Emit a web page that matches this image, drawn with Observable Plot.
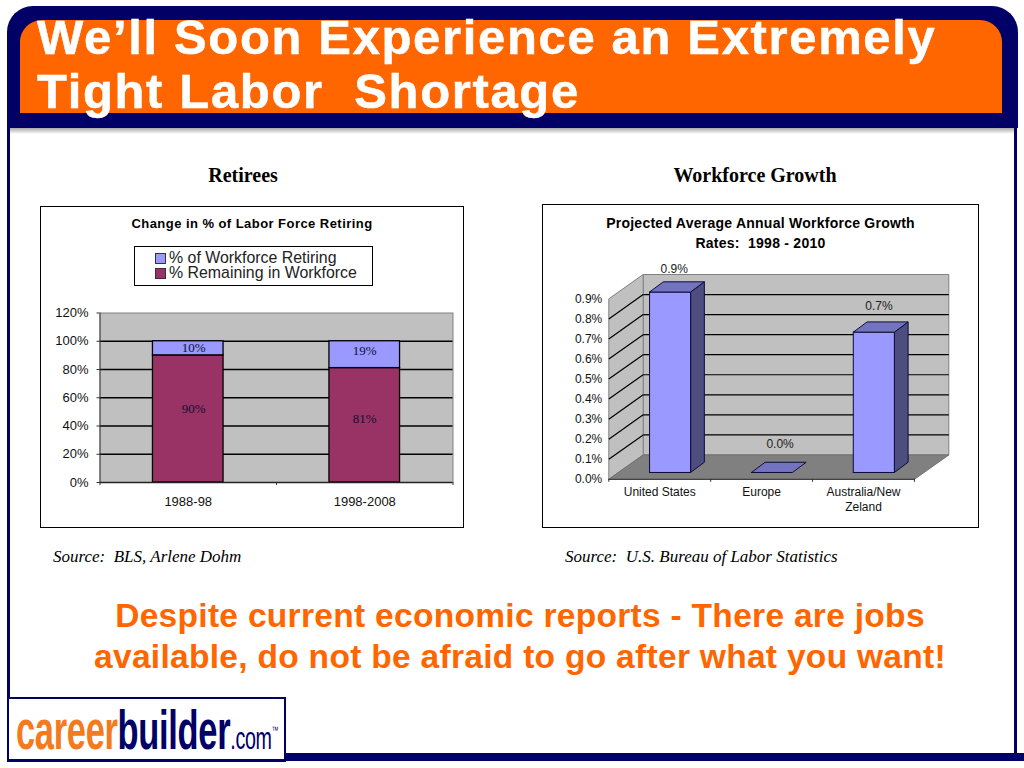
<!DOCTYPE html>
<html>
<head>
<meta charset="utf-8">
<script src="https://cdn.jsdelivr.net/npm/d3@7"></script>
<script src="https://cdn.jsdelivr.net/npm/@observablehq/plot@0.6"></script>
<style>
  html, body { margin: 0; padding: 0; background: #fff; }
  #slide { position: relative; width: 1024px; height: 768px; overflow: hidden; background: #fff; font-family: "Liberation Sans", Arial, sans-serif; }
  .abs { position: absolute; white-space: pre; }
  .ctr { transform: translateX(-50%); text-align: center; }
  .serif { font-family: "Liberation Serif", "Times New Roman", serif; }
  .box { position: absolute; box-sizing: border-box; border: 1.5px solid #000; background: #fff; }
  svg { position: absolute; background: transparent !important; overflow: visible; }
  .sw { position: absolute; width: 9px; height: 9px; border: 1px solid #333; }
</style>
</head>
<body>
<div id="slide">
  <!-- slide furniture -->
  <div class="abs" style="left:7px;top:100px;width:1004px;height:660px;border-left:3px solid #000066;border-right:3px solid #000066;"></div>
  <div class="abs" style="left:10px;top:127px;width:1004px;height:7px;background:linear-gradient(#9a9a9a,#fff);"></div>
  <div class="abs" style="left:6.5px;top:6px;width:1011px;height:122px;background:#000066;border-radius:26px 26px 0 0;"></div>
  <div class="abs" style="left:19.5px;top:20px;width:982px;height:93px;background:#ff6600;border-radius:22px 22px 0 0;"></div>
  <div class="abs" style="left:37px;top:10px;font-weight:bold;font-size:49px;line-height:54px;color:#fff;letter-spacing:1.65px;-webkit-text-stroke:0.5px #fff;">We’ll Soon Experience an Extremely
Tight Labor  Shortage</div>

  <div class="abs" style="left:285px;top:753px;width:739px;height:8px;background:#000066;"></div>
  <div class="abs" style="left:7px;top:697px;width:278.5px;height:65px;box-sizing:border-box;border:2.5px solid #000066;border-bottom-width:3.5px;background:#fff;"></div>
  <div class="abs" id="logo" style="left:16px;top:698px;font-weight:bold;font-size:56px;line-height:64px;letter-spacing:-0.5px;transform-origin:0 0;transform:scaleX(0.615);"><span style="color:#f47a20;">career</span><span style="color:#000066;">builder</span><span style="color:#000066;font-size:32px;font-weight:normal;">.com</span><span style="color:#000066;font-size:11px;font-weight:normal;vertical-align:15px;">™</span></div>

  <!-- headings -->
  <div class="abs ctr serif" style="left:243px;top:164px;font-weight:bold;font-size:20px;line-height:22px;">Retirees</div>
  <div class="abs ctr serif" style="left:755px;top:164px;font-weight:bold;font-size:20px;line-height:22px;">Workforce Growth</div>

  <!-- chart frames -->
  <div class="box" id="leftBox" style="left:40px;top:205.5px;width:424px;height:322px;"></div>
  <div class="box" id="rightBox" style="left:542px;top:204px;width:437px;height:324px;"></div>

  <div class="abs ctr" style="left:252px;top:216px;font-weight:bold;font-size:13px;line-height:16px;letter-spacing:0.45px;">Change in % of Labor Force Retiring</div>
  <div class="abs" style="left:134px;top:246px;width:239px;height:40px;box-sizing:border-box;border:1px solid #000;"></div>
  <div class="sw" style="left:155px;top:253px;background:#9999ff;"></div>
  <div class="sw" style="left:155px;top:268px;background:#993366;"></div>
  <div class="abs" style="left:169px;top:250px;font-size:15.9px;line-height:15px;color:#222;">% of Workforce Retiring
% Remaining in Workforce</div>

  <div class="abs ctr" style="left:760.5px;top:214px;font-weight:bold;font-size:14px;line-height:19.5px;letter-spacing:0.25px;">Projected Average Annual Workforce Growth
Rates:  1998 - 2010</div>

  <!-- sources -->
  <div class="abs serif" style="left:53px;top:548px;font-style:italic;font-size:17px;line-height:18px;">Source:  BLS, Arlene Dohm</div>
  <div class="abs serif" style="left:565px;top:548px;font-style:italic;font-size:17px;line-height:18px;">Source:  U.S. Bureau of Labor Statistics</div>

  <!-- takeaway -->
  <div class="abs ctr" style="left:520px;top:595px;font-weight:bold;font-size:33.5px;line-height:41px;color:#ff6600;letter-spacing:0.3px;">Despite current economic reports - There are jobs
available, do not be afraid to go after what you want!</div>
</div>

<script>
// ---------- Left chart data ----------
const periods = ["1988-98", "1998-2008"];
const retiring = [10, 19];
const remaining = [90, 81];
const retiringLabel = "% of Workforce Retiring";
const remainingLabel = "% Remaining in Workforce";
const leftTicks = [0, 20, 40, 60, 80, 100, 120];

// ---------- Right chart data ----------
const regions = ["United States", "Europe", "Australia/New\nZeland"];
const growth = [0.9, 0.0, 0.7];
const rightTicks = [0, 0.1, 0.2, 0.3, 0.4, 0.5, 0.6, 0.7, 0.8, 0.9];

const slide = document.getElementById("slide");
const serif = "'Liberation Serif','Times New Roman',serif";
const sans = "'Liberation Sans',Arial,sans-serif";

// ---------- Left chart: stacked columns ----------
const BAR_INSET = 0.3; // one column fills the middle of each category slot
const rows = periods.flatMap((p, i) => [
  {i, period: p, series: remainingLabel, value: remaining[i], order: 0, mid: remaining[i] / 2},
  {i, period: p, series: retiringLabel, value: retiring[i], order: 1, mid: remaining[i] + retiring[i] / 2}
]);
// the source labels were hand-placed in the chart, so nudge them from the middle of their segments
const labelNudge = {"0-0": [5.5, -10], "0-1": [5.5, 0], "1-0": [0, -6.4], "1-1": [0, -3.5]};

const left = Plot.plot({
  width: 424, height: 321,
  marginLeft: 59.5, marginRight: 11.5, marginTop: 106.5, marginBottom: 45,
  x: {domain: [0, periods.length], axis: null},
  y: {domain: [0, 120], axis: null},
  style: {fontFamily: sans, background: "transparent"},
  marks: [
    Plot.frame({fill: "#c0c0c0", stroke: "#808080"}),
    Plot.ruleY(leftTicks.filter(t => t > 0 && t < 120), {stroke: "#000", strokeWidth: 1.3}),
    Plot.rectY(rows, Plot.stackY({
      x1: d => d.i + BAR_INSET, x2: d => d.i + 1 - BAR_INSET,
      y: "value", order: "order", z: "series",
      fill: d => d.series === retiringLabel ? "#9999ff" : "#993366",
      stroke: "#000", strokeWidth: 1.3
    })),
    Plot.ruleX([0], {stroke: "#444"}),
    Plot.ruleY([0], {stroke: "#222", strokeWidth: 1.4}),
    Plot.axisY({ticks: leftTicks, tickFormat: d => d + "%", tickSize: 3, tickPadding: 8.5, fontSize: 13, label: null, stroke: "#333", color: "#111"}),
    Plot.axisX({ticks: [0, 1, 2], tickFormat: () => "", tickSize: 3, label: null, stroke: "#333"}),
    Plot.axisX({ticks: periods.map((_, i) => i + 0.5), tickFormat: d => periods[Math.floor(d)], tickSize: 0, tickPadding: 14.5, fontSize: 13, label: null, color: "#111"}),
    ...rows.map(d => {
      const [dx, dy] = labelNudge[d.i + "-" + d.order];
      return Plot.text([d], {
        x: r => r.i + 0.5, y: "mid",
        text: r => r.value + "%",
        dx, dy,
        fontFamily: serif, fontSize: 13, fill: "#10102c"
      });
    })
  ]
});
left.style.left = "40px";
left.style.top = "206px";
slide.appendChild(left);

// ---------- Right chart: 3-D columns, projected through the plot's own scales ----------
const DEPTH_X = 0.3375, DEPTH_Y = 0.1215;   // oblique floor depth in scale units
const BAR_X = 0.4, BAR_W = 0.403;           // column front face inside a category slot
const BAR_DX = 0.135, BAR_DY = 0.051;       // column depth
const BAR_BASE = 0.034;                     // column sits slightly behind the front edge
const top09 = rightTicks[rightTicks.length - 1];

const poly = (pts, fill, stroke, strokeWidth = 1) =>
  Plot.line([...pts, pts[0]].map(([x, y]) => ({x, y})), {x: "x", y: "y", fill, stroke, strokeWidth, curve: "linear"});

const n = regions.length;
const innerTicks = rightTicks.filter(t => t > 0 && t < top09);
const barMarks = growth.flatMap((v, i) => {
  const x0 = i + BAR_X, x1 = x0 + BAR_W, y0 = BAR_BASE, y1 = BAR_BASE + v;
  const faces = [];
  if (v > 0) {
    faces.push(poly([[x1, y0], [x1 + BAR_DX, y0 + BAR_DY], [x1 + BAR_DX, y1 + BAR_DY], [x1, y1]], "#4d4d80", "#0c0c38"));
    faces.push(poly([[x0, y0], [x1, y0], [x1, y1], [x0, y1]], "#9999ff", "#0c0c38"));
  }
  faces.push(poly([[x0, y1], [x1, y1], [x1 + BAR_DX, y1 + BAR_DY], [x0 + BAR_DX, y1 + BAR_DY]], "#7373bf", "#0c0c38"));
  return faces;
});
// value labels sat where the author's chart put them, slightly off the columns
const growthLabelNudge = [[-2, -23], [2, -28], [-1, -26]];

const right = Plot.plot({
  width: 437, height: 324,
  marginLeft: 66.3, marginRight: 30.7, marginTop: 70, marginBottom: 49.2,
  x: {domain: [0, n + DEPTH_X], axis: null},
  y: {domain: [0, top09 + DEPTH_Y], axis: null},
  style: {fontFamily: sans, background: "transparent"},
  marks: [
    poly([[DEPTH_X, DEPTH_Y], [n + DEPTH_X, DEPTH_Y], [n + DEPTH_X, top09 + DEPTH_Y], [DEPTH_X, top09 + DEPTH_Y]], "#c0c0c0", "#808080"),
    poly([[0, 0], [DEPTH_X, DEPTH_Y], [DEPTH_X, top09 + DEPTH_Y], [0, top09]], "#c0c0c0", "#808080"),
    Plot.link(innerTicks, {x1: () => 0, y1: d => d, x2: () => DEPTH_X, y2: d => d + DEPTH_Y, stroke: "#000", strokeWidth: 1.2}),
    Plot.link(innerTicks, {x1: () => DEPTH_X, y1: d => d + DEPTH_Y, x2: () => n + DEPTH_X, y2: d => d + DEPTH_Y, stroke: "#000", strokeWidth: 1.2}),
    poly([[0, 0], [n, 0], [n + DEPTH_X, DEPTH_Y], [DEPTH_X, DEPTH_Y]], "#808080", "#707070"),
    Plot.link([0], {x1: () => 0, y1: () => 0, x2: () => n, y2: () => 0, stroke: "#333"}),
    ...barMarks,
    Plot.axisY({ticks: rightTicks, tickFormat: d => d.toFixed(1) + "%", tickSize: 0, tickPadding: 6.5, fontSize: 12, label: null, color: "#111"}),
    Plot.axisX({ticks: d3.range(n + 1), tickFormat: () => "", tickSize: 3, label: null, stroke: "#333"}),
    Plot.axisX({ticks: d3.range(n).map(i => i + 0.5), tickFormat: d => regions[Math.floor(d)], tickSize: 0, tickPadding: 5.5, fontSize: 12, lineHeight: 1.27, label: null, color: "#111"}),
    ...growth.map((v, i) => Plot.text([{v, i}], {
      x: d => d.i + BAR_X + BAR_W / 2 + 0.06, y: d => d.v + BAR_BASE,
      text: d => d.v.toFixed(1) + "%",
      dx: growthLabelNudge[i][0], dy: growthLabelNudge[i][1],
      fontSize: 12, fill: "#222"
    }))
  ]
});
right.style.left = "542px";
right.style.top = "204px";
slide.appendChild(right);
</script>
</body>
</html>
